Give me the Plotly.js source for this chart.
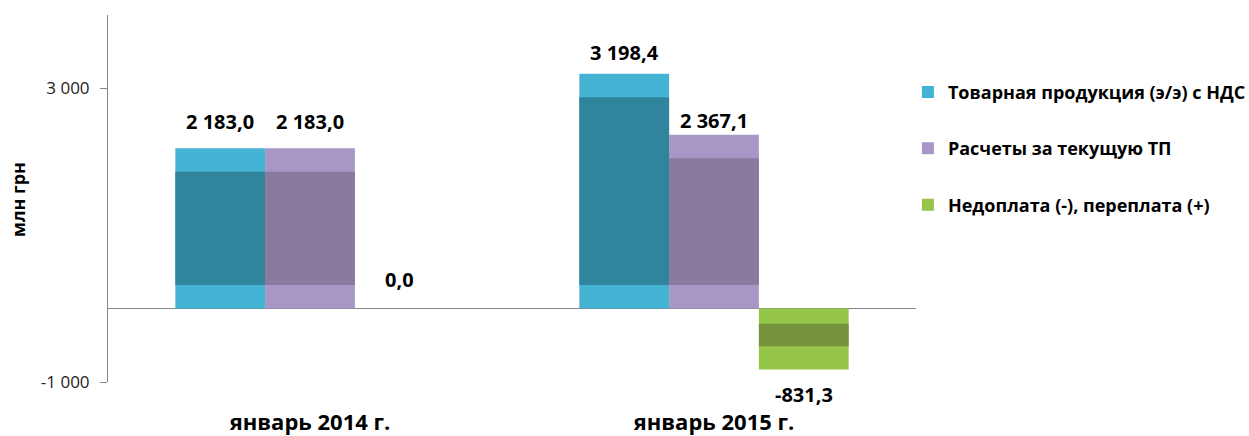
<!DOCTYPE html>
<html>
<head>
<meta charset="utf-8">
<script src="https://cdn.plot.ly/plotly-3.0.1.min.js"></script>
<style>html,body{margin:0;padding:0;background:#fff;}#chart{width:1249px;height:436px;}</style>
</head>
<body>
<div id="chart"></div>
<script>
// ---- data ----
const categories = ['январь 2014 г.', 'январь 2015 г.'];
const seriesNames = ['Товарная продукция (э/э) с НДС', 'Расчеты за текущую ТП', 'Недоплата (-), переплата (+)'];
const tovarnaya = [2183.0, 3198.4];
const raschety = [2183.0, 2367.1];
const nedoplata = [0.0, -831.3];
const yTickValues = [-1000, 3000];
const yTickLabels = ['-1 000', '3 000'];
const yAxisTitle = 'млн грн';

// ---- style ----
const series = [tovarnaya, raschety, nedoplata];
const outerColors = ['#45B3D3', '#A796C6', '#95C64A'];
const innerColors = ['#30849C', '#8A7A9D', '#76933C'];
const bevel = 320;           // bevel band thickness in value units
const labelShift = [[27, 27, 29], [21, 14, -25]]; // label centre distance from bar end (px)
const FONT = 'Open Sans, sans-serif';

function fmt(v) {
  const s = Math.abs(v).toFixed(1).split('.');
  const intPart = s[0].replace(/\B(?=(\d{3})+(?!\d))/g, ' ');
  return (v < 0 ? '-' : '') + intPart + ',' + s[1];
}

const traces = [];
series.forEach((vals, j) => {
  traces.push({
    type: 'bar', x: categories, y: vals, name: '<b>' + seriesNames[j] + '</b>',
    marker: {color: outerColors[j], line: {width: 0}},
    legendgroup: 'g' + j, hoverinfo: 'skip', xaxis: 'x', yaxis: 'y'
  });
});
series.forEach((vals, j) => {
  traces.push({
    type: 'bar', x: categories,
    base: vals.map(v => v >= 0 ? bevel : v + bevel),
    y: vals.map(v => Math.abs(v) > 2 * bevel ? Math.abs(v) - (v >= 0 ? 2 * bevel : 1.65 * bevel) : null),
    marker: {color: innerColors[j], line: {width: 0}},
    showlegend: false, hoverinfo: 'skip', xaxis: 'x2', yaxis: 'y'
  });
});

const annotations = [];
const offs = [-2/9, 0, 2/9];
series.forEach((vals, j) => {
  vals.forEach((v, i) => {
    annotations.push({
      x: i + offs[j], y: v, xref: 'x', yref: 'y',
      text: '<b>' + fmt(v) + '</b>', showarrow: false,
      xanchor: 'center', yanchor: 'middle',
      yshift: labelShift[i][j],
      font: {family: FONT, size: 20, color: '#000'}
    });
  });
});
annotations.push({
  xref: 'paper', yref: 'paper', x: -0.111, y: 0.496,
  text: '<b>' + yAxisTitle + '</b>', textangle: -90, showarrow: false,
  xanchor: 'center', yanchor: 'middle',
  font: {family: FONT, size: 18, color: '#000'}
});

const layout = {
  width: 1249, height: 436,
  margin: {l: 108, r: 333, t: 15, b: 54, autoexpand: false},
  paper_bgcolor: '#fff', plot_bgcolor: 'rgba(0,0,0,0)',
  barmode: 'group', bargap: 1/3, bargroupgap: 0,
  showlegend: true,
  legend: {
    x: 0.99, y: 0.84, xanchor: 'left', yanchor: 'top',
    font: {family: FONT, size: 18, color: '#000', weight: 'bold'},
    tracegroupgap: 30, traceorder: 'grouped', bgcolor: 'rgba(0,0,0,0)'
  },
  xaxis: {
    type: 'category', categoryarray: categories, range: [-0.5, 1.5],
    showline: false, showgrid: false, zeroline: false,
    ticks: 'outside', ticklen: 21, tickcolor: 'rgba(0,0,0,0)',
    tickfont: {family: FONT, size: 22, color: '#000', weight: 'bold'},
    fixedrange: true
  },
  xaxis2: {
    type: 'category', categoryarray: categories, range: [-0.5, 1.5],
    overlaying: 'x', visible: false, fixedrange: true
  },
  yaxis: {
    range: [-1000, 4000], tickvals: yTickValues, ticktext: yTickLabels,
    showline: true, linecolor: '#868686', linewidth: 1,
    ticks: 'outside', ticklen: 7, tickcolor: '#868686', ticklabelstandoff: 7,
    showgrid: false, zeroline: true, zerolinecolor: '#868686', zerolinewidth: 1.5,
    tickfont: {family: FONT, size: 17, color: '#222'},
    fixedrange: true
  },
  annotations: annotations
};

Plotly.newPlot('chart', traces, layout, {displayModeBar: false, staticPlot: true});
</script>
</body>
</html>
